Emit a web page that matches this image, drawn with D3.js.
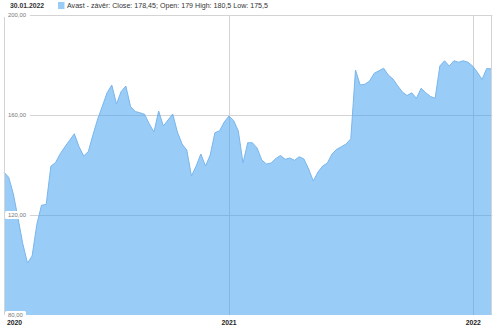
<!DOCTYPE html>
<html>
<head>
<meta charset="utf-8">
<script src="https://cdn.jsdelivr.net/npm/d3@7"></script>
<style>
  body { margin: 0; background: #fff; }
  text { font-family: "Liberation Sans", Arial, sans-serif; }
</style>
</head>
<body>
<div id="chart"></div>
<script>
// weekly closes (Fridays)
var startDate = "2020-01-31";
var closes = [
  137.1, 135.1, 128.4, 118.7, 108.6, 100.8, 103.6, 116.2, 123.9, 124.2,
  139.5, 141.0, 144.5, 147.3, 149.9, 152.5, 147.4, 143.6, 145.4, 152.2,
  158.4, 163.6, 168.9, 172.0, 164.4, 169.4, 171.6, 163.4, 161.4, 160.9,
  160.3, 156.4, 153.2, 161.6, 155.6, 158.0, 160.4, 153.2, 148.4, 146.0,
  135.6, 139.6, 144.4, 139.6, 144.0, 152.9, 153.7, 157.2, 159.6, 157.8,
  153.6, 140.8, 148.9, 148.9, 146.8, 142.0, 140.4, 140.8, 142.6, 143.8,
  142.3, 142.8, 141.9, 143.3, 142.4, 138.4, 133.6, 137.2, 139.6, 140.8,
  144.4, 146.3, 147.3, 148.4, 150.5, 178.0, 172.0, 172.3, 173.6, 176.7,
  177.7, 178.7, 176.0, 174.4, 171.7, 169.2, 167.8, 168.9, 166.7, 170.7,
  168.9, 167.4, 166.7, 179.6, 181.7, 179.6, 181.7, 181.1, 181.7, 181.1,
  179.6, 177.1, 174.2, 178.6, 178.45
];
var yTicks = [80, 120, 160, 200];
var yearLabels = ["2020", "2021", "2022"];
var legendDate = "30.01.2022";
var legendText = "Avast - závěr: Close: 178,45; Open: 179 High: 180,5 Low: 175,5";

var width = 500, height = 329;
var margin = { top: 15, right: 8.6, bottom: 14, left: 4 };

var parse = d3.timeParse("%Y-%m-%d");
var t0 = parse(startDate);
var dates = closes.map(function(d, i) { return d3.timeDay.offset(t0, i * 7); });
var data = closes.map(function(c, i) { return { date: dates[i], close: c }; });

var svg = d3.select("#chart")
            .append("svg")
            .attr("width", width)
            .attr("height", height);

var x = d3.scaleTime()
          .domain(d3.extent(dates))
          .range([margin.left, width - margin.right]);

var y = d3.scaleLinear()
          .domain([80, 200])
          .range([height - margin.bottom, margin.top]);

var x0 = x.range()[0], x1 = x.range()[1];

// area
var area = d3.area()
             .x(function(d) { return x(d.date); })
             .y0(y(80))
             .y1(function(d) { return y(d.close); });

var line = d3.line()
             .x(function(d) { return x(d.date); })
             .y(function(d) { return y(d.close); });

// horizontal grid
svg.selectAll(".hgrid")
   .data(yTicks.filter(function(d) { return d > 80; }))
   .enter()
   .append("line")
   .attr("x1", 30)
   .attr("x2", x1 + 1)
   .attr("y1", function(d) { return Math.round(y(d)) + 0.5; })
   .attr("y2", function(d) { return Math.round(y(d)) + 0.5; })
   .attr("stroke", "#d4d4d4");

// vertical year grid
var yearDates = yearLabels.map(function(s) { return parse(s + "-01-01"); });
svg.selectAll(".vgrid")
   .data(yearDates.filter(function(d) { return d > x.domain()[0]; }))
   .enter()
   .append("line")
   .attr("x1", function(d) { return Math.round(x(d)) + 0.5; })
   .attr("x2", function(d) { return Math.round(x(d)) + 0.5; })
   .attr("y1", y(200))
   .attr("y2", y(80))
   .attr("stroke", "#d4d4d4");

svg.append("path")
   .datum(data)
   .attr("d", area)
   .attr("fill", "rgba(51,153,238,0.5)");

svg.append("path")
   .datum(data)
   .attr("d", line)
   .attr("fill", "none")
   .attr("stroke", "#7ab6ec")
   .attr("stroke-width", 1);

// left and right borders
svg.append("line")
   .attr("x1", x0 + 0.5).attr("x2", x0 + 0.5)
   .attr("y1", y(200) + 2).attr("y2", y(80))
   .attr("stroke", "#d4d4d4");
svg.append("line")
   .attr("x1", Math.round(x1) + 0.5).attr("x2", Math.round(x1) + 0.5)
   .attr("y1", y(200)).attr("y2", y(80))
   .attr("stroke", "#d4d4d4");

// y labels with white boxes
var yl = svg.selectAll(".ylab")
            .data(yTicks)
            .enter()
            .append("g")
            .attr("transform", function(d) { return "translate(8," + y(d) + ")"; });
yl.append("rect")
  .attr("x", -3).attr("y", -4)
  .attr("width", function(d) { return d >= 100 ? 24 : 21; })
  .attr("height", 8)
  .attr("rx", 1.5)
  .attr("fill", "#fff");
yl.append("text")
  .attr("dy", "0.35em")
  .attr("font-size", 5.9)
  .attr("fill", "#777")
  .text(function(d) { return d3.format(".2f")(d).replace(".", ","); });

// x labels
svg.selectAll(".xlab")
   .data(yearDates)
   .enter()
   .append("text")
   .attr("x", function(d) { return d < x.domain()[0] ? x0 + 3 : x(d); })
   .attr("y", 325)
   .attr("text-anchor", function(d) { return d < x.domain()[0] ? "start" : "middle"; })
   .attr("font-size", 6.8)
   .attr("font-weight", "bold")
   .attr("fill", "#222")
   .text(function(d, i) { return yearLabels[i]; });

// legend
svg.append("text")
   .attr("x", 10).attr("y", 8)
   .attr("font-size", 6.8)
   .attr("font-weight", "bold")
   .attr("fill", "#333")
   .text(legendDate);
svg.append("rect")
   .attr("x", 58).attr("y", 2)
   .attr("width", 6.5).attr("height", 7)
   .attr("fill", "#99ccf6");
svg.append("text")
   .attr("x", 67).attr("y", 8)
   .attr("font-size", 7.1)
   .attr("fill", "#333")
   .text(legendText);
</script>
</body>
</html>
